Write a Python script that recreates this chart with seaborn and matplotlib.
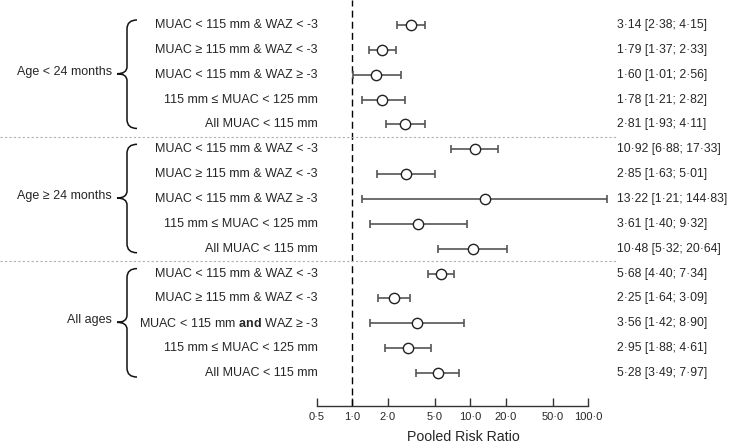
import numpy as np
import pandas as pd
import matplotlib
matplotlib.use('Agg')
import matplotlib.pyplot as plt
from matplotlib.path import Path
from matplotlib.patches import PathPatch
from matplotlib.transforms import Affine2D, blended_transform_factory
import seaborn as sns

# Donnees
groups = ['Age < 24 months', 'Age \u2265 24 months', 'All ages']
subgroups = ['MUAC < 115 mm & WAZ < -3',
             'MUAC \u2265 115 mm & WAZ < -3',
             'MUAC < 115 mm & WAZ \u2265 -3',
             '115 mm \u2264 MUAC < 125 mm',
             'All MUAC < 115 mm']
subgroups_all = ['MUAC < 115 mm & WAZ < -3',
                 'MUAC \u2265 115 mm & WAZ < -3',
                 'MUAC < 115 mm $\\mathbf{and}$ WAZ \u2265 -3',
                 '115 mm \u2264 MUAC < 125 mm',
                 'All MUAC < 115 mm']
rr = [3.14, 1.79, 1.60, 1.78, 2.81,
      10.92, 2.85, 13.22, 3.61, 10.48,
      5.68, 2.25, 3.56, 2.95, 5.28]
lo = [2.38, 1.37, 1.01, 1.21, 1.93,
      6.88, 1.63, 1.21, 1.40, 5.32,
      4.40, 1.64, 1.42, 1.88, 3.49]
hi = [4.15, 2.33, 2.56, 2.82, 4.11,
      17.33, 5.01, 144.83, 9.32, 20.64,
      7.34, 3.09, 8.90, 4.61, 7.97]
ticks = [0.5, 1, 2, 5, 10, 20, 50, 100]
tick_labels = ['0\u00b75', '1\u00b70', '2\u00b70', '5\u00b70', '10\u00b70', '20\u00b70', '50\u00b70', '100\u00b70']

labels = subgroups + subgroups + subgroups_all
df = pd.DataFrame({'rr': rr, 'lo': lo, 'hi': hi, 'row': np.arange(len(rr)), 'label': labels})

sns.set_theme(style='white')
plt.rcParams['font.family'] = ['Liberation Sans', 'DejaVu Sans']
plt.rcParams['mathtext.fontset'] = 'custom'
plt.rcParams['mathtext.rm'] = 'Liberation Sans'
plt.rcParams['mathtext.bf'] = 'Liberation Sans:bold'

W, H = 729, 444
fs = 9
fig = plt.figure(figsize=(W / 100, H / 100), dpi=100)

# axe en pixels : x 317 -> 588, bas a 406
x0, x1, ybot = 317, 588, 406
ax = fig.add_axes([x0 / W, (H - ybot) / H, (x1 - x0) / W, ybot / H])
ax.set_xscale('log')
ax.set_xlim(0.5, 100)
row0, dy = 25, 24.86
ax.set_ylim((ybot - row0) / dy, -row0 / dy)

# pixel coords (origine en haut)
pix = Affine2D().scale(1 / W, -1 / H).translate(0, 1) + fig.transFigure
bl = blended_transform_factory(pix, ax.transData)

# ligne verticale a 1
ax.axvline(1, color='black', lw=1, ls=(0, (5, 3)), zorder=1)

# intervalles
eb = ax.errorbar(df['rr'], df['row'], xerr=[df['rr'] - df['lo'], df['hi'] - df['rr']],
                 fmt='none', ecolor='#555555', elinewidth=1.2, capsize=3, capthick=1.2, zorder=2)
for a in eb.lines[1]:
    a.set_clip_on(False)
for a in eb.lines[2]:
    a.set_clip_on(False)

sns.scatterplot(data=df, x='rr', y='row', ax=ax, s=55, color='white',
                edgecolor='#222222', linewidth=1, zorder=3, clip_on=False, legend=False)

# axes
for sp in ['left', 'top', 'right']:
    ax.spines[sp].set_visible(False)
ax.spines['bottom'].set_bounds(0.5, 100)
ax.spines['bottom'].set_color('#333333')
ax.spines['bottom'].set_linewidth(1)
ax.set_xticks(ticks)
ax.set_xticklabels(tick_labels)
ax.xaxis.set_minor_locator(matplotlib.ticker.NullLocator())
ax.tick_params(axis='x', direction='in', length=6, width=1, color='#333333',
               labelsize=8, pad=4, bottom=True)
ax.set_yticks([])
ax.set_xlabel('')
ax.set_ylabel('')
fig.text(463 / W, 1 - 437 / H, 'Pooled Risk Ratio', ha='center', va='center', fontsize=10.2)

# textes
for i, r in df.iterrows():
    ax.text(318, r['row'], r['label'], transform=bl, ha='right', va='center', fontsize=fs)
    txt = '%.2f [%.2f; %.2f]' % (r['rr'], r['lo'], r['hi'])
    ax.text(617, r['row'], txt.replace('.', '\u00b7'), transform=bl,
            ha='left', va='center', fontsize=8.7)

# separateurs
for yy in [4.5, 9.5]:
    y = row0 + yy * dy
    fig.add_artist(plt.Line2D([0, 617 / W], [1 - y / H, 1 - y / H], color='#b0b0b0',
                              lw=0.8, ls=(0, (2, 2))))

# accolades + groupes
for g, name in enumerate(groups):
    yt = row0 + (5 * g) * dy - 5
    yb = row0 + (5 * g + 4) * dy + 4
    ym = row0 + (5 * g + 2) * dy - 1
    xc, xt, xh = 127, 117, 137
    verts = [(xh, yt), (xc, yt), (xc, yt + 9),
             (xc, ym - 7),
             (xc, ym), (xt, ym),
             (xc, ym), (xc, ym + 7),
             (xc, yb - 9),
             (xc, yb), (xh, yb)]
    codes = [Path.MOVETO, Path.CURVE3, Path.CURVE3,
             Path.LINETO,
             Path.CURVE3, Path.CURVE3,
             Path.CURVE3, Path.CURVE3,
             Path.LINETO,
             Path.CURVE3, Path.CURVE3]
    fig.add_artist(PathPatch(Path(verts, codes), transform=pix, fill=False,
                             edgecolor='#111111', lw=1.1))
    fig.text(112 / W, 1 - (ym - 2) / H, name, ha='right', va='center', fontsize=fs)

fig.savefig('out.png', dpi=100)
